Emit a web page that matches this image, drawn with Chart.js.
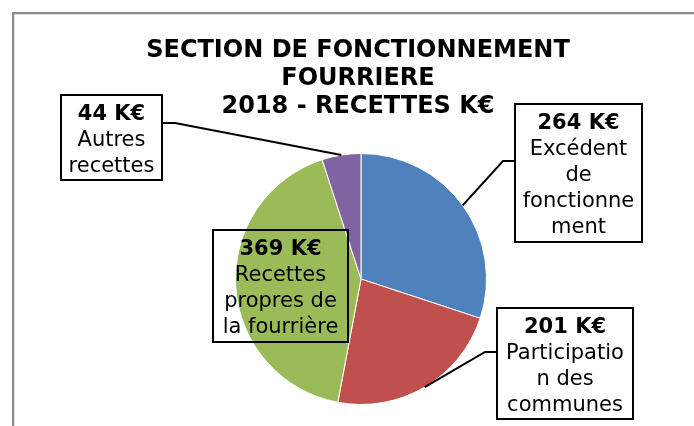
<!DOCTYPE html>
<html>
<head>
<meta charset="utf-8">
<script src="https://cdn.jsdelivr.net/npm/chart.js@4.4.0/dist/chart.umd.min.js"></script>
<style>
  html, body { margin: 0; padding: 0; background: #fff; }
  #wrap { width: 694px; height: 426px; }
</style>
</head>
<body>
<div id="wrap"><canvas id="pieCanvas" width="694" height="426"></canvas></div>
<script>
// Data
const categories = ["Excédent de fonctionnement", "Participation des communes", "Recettes propres de la fourrière", "Autres recettes"];
const values = [264, 201, 369, 44];
const unit = "K€";
// label text wrapped the way the original wraps it
const labelLines = [
  ["Excédent", "de", "fonctionne", "ment"],
  ["Participatio", "n des", "communes"],
  ["Recettes", "propres de", "la fourrière"],
  ["Autres", "recettes"]
];
const titleLines = ["SECTION DE FONCTIONNEMENT", "FOURRIERE", "2018 - RECETTES K€"];
const sliceColors = ["#4F81BD", "#C0504D", "#9BBB59", "#8064A2"];

// label boxes (layout only): box rect, where the leader line leaves it, and its elbow
const boxes = [
  { x: 515, y: 104, w: 127, h: 138, anchor: [515, 161], elbow: [503, 161], fill: "#fff" },
  { x: 497, y: 308, w: 136, h: 111, anchor: [497, 352], elbow: [485, 352], fill: "#fff" },
  { x: 213, y: 230, w: 135, h: 112, anchor: null, elbow: null, fill: null },
  { x: 61, y: 95, w: 101, h: 85, anchor: [162, 123], elbow: [175, 123], fill: "#fff" }
];

const decorPlugin = {
  id: "decor",
  afterDraw(chart) {
    const ctx = chart.ctx;
    const meta = chart.getDatasetMeta(0);
    ctx.save();

    // outer frame (only the top-left corner is in the picture)
    ctx.strokeStyle = "#8c8c8c";
    ctx.lineWidth = 2;
    ctx.strokeRect(13, 13, 720, 500);
    ctx.strokeStyle = "#dcdcdc";
    ctx.lineWidth = 1;
    ctx.strokeRect(14.5, 14.5, 720, 500);

    // title
    ctx.fillStyle = "#000";
    ctx.textAlign = "center";
    ctx.textBaseline = "alphabetic";
    ctx.font = "bold 24px 'DejaVu Sans'";
    titleLines.forEach((t, i) => ctx.fillText(t, 358, 57 + i * 28));

    // leader lines from the middle of each slice edge
    ctx.strokeStyle = "#000";
    ctx.lineWidth = 2;
    boxes.forEach((b, i) => {
      if (!b.anchor) return;
      const arc = meta.data[i].getProps(["x", "y", "startAngle", "endAngle", "outerRadius"], true);
      const mid = (arc.startAngle + arc.endAngle) / 2;
      const px = arc.x + Math.cos(mid) * arc.outerRadius;
      const py = arc.y + Math.sin(mid) * arc.outerRadius;
      ctx.beginPath();
      ctx.moveTo(px, py);
      ctx.lineTo(b.elbow[0], b.elbow[1]);
      ctx.lineTo(b.anchor[0], b.anchor[1]);
      ctx.stroke();
    });

    // boxes + text
    boxes.forEach((b, i) => {
      if (b.fill) {
        ctx.fillStyle = b.fill;
        ctx.fillRect(b.x, b.y, b.w, b.h);
      }
      ctx.strokeStyle = "#000";
      ctx.lineWidth = 2;
      ctx.strokeRect(b.x, b.y, b.w, b.h);

      const cx = b.x + b.w / 2;
      ctx.fillStyle = "#000";
      ctx.font = "bold 21px 'DejaVu Sans'";
      ctx.fillText(values[i] + " " + unit, cx, b.y + 25);
      ctx.font = "21px 'DejaVu Sans'";
      labelLines[i].forEach((line, j) => ctx.fillText(line, cx, b.y + 25 + (j + 1) * 26));
    });

    ctx.restore();
  }
};

const ctxPie = document.getElementById("pieCanvas").getContext("2d");
const pieChart = new Chart(ctxPie, {
  type: "pie",
  data: {
    labels: categories,
    datasets: [{
      data: values,
      backgroundColor: sliceColors,
      borderColor: "#ffffff",
      borderWidth: 1,
      hoverOffset: 0
    }]
  },
  options: {
    responsive: false,
    animation: false,
    devicePixelRatio: 1,
    layout: { padding: { top: 153, left: 235, right: 207, bottom: 21 } },
    plugins: {
      legend: { display: false },
      tooltip: { enabled: false },
      title: { display: false }
    }
  },
  plugins: [decorPlugin]
});
</script>
</body>
</html>
